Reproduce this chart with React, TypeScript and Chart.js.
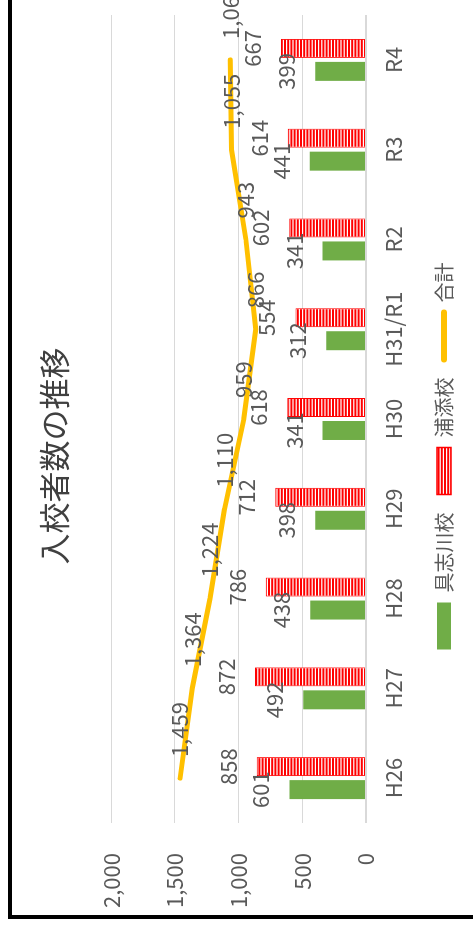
import React, { useEffect, useRef } from 'react';
import { Chart, registerables } from 'chart.js';

Chart.register(...registerables);

const categories = ['H26', 'H27', 'H28', 'H29', 'H30', 'H31/R1', 'R2', 'R3', 'R4'];
const gushikawa = [601, 492, 438, 398, 341, 312, 341, 441, 399];
const urasoe = [858, 872, 786, 712, 618, 554, 602, 614, 667];
const total = [1459, 1364, 1224, 1110, 959, 866, 943, 1055, 1066];
const valueTicks = [0, 500, 1000, 1500, 2000];
const seriesNames = ['具志川校', '浦添校', '合計'];
const titleText = '入校者数の推移';

const LATIN = "'Liberation Sans Narrow', 'Noto Sans CJK JP', sans-serif";
const CJK = "'Noto Sans CJK JP', sans-serif";
const TEXT = '#595959';
const GREEN = '#70AD47';
const RED = '#FF0000';
const GOLD = '#FFC000';

// white fill with thin red horizontal stripes
function stripePattern(): CanvasPattern | string {
  const tile = document.createElement('canvas');
  tile.width = 8;
  tile.height = 16;
  const t = tile.getContext('2d');
  if (!t) return RED;
  t.fillStyle = '#ffffff';
  t.fillRect(0, 0, 8, 16);
  t.fillStyle = RED;
  for (let k = 0; k < 5; k++) t.fillRect(0, k * 3.2, 8, 2);
  return t.createPattern(tile, 'repeat') || RED;
}

const fmt = (v: number) => v.toLocaleString('en-US');

// numeric labels above bars and beside line points
const valueLabels = {
  id: 'valueLabels',
  afterDatasetsDraw(chart: any) {
    const ctx = chart.ctx as CanvasRenderingContext2D;
    ctx.save();
    ctx.font = `22px ${LATIN}`;
    ctx.fillStyle = TEXT;
    chart.data.datasets.forEach((ds: any, di: number) => {
      const meta = chart.getDatasetMeta(di);
      meta.data.forEach((el: any, i: number) => {
        const text = fmt(ds.data[i] as number);
        if (meta.type === 'bar') {
          ctx.textAlign = 'center';
          ctx.textBaseline = 'alphabetic';
          ctx.fillText(text, el.x, el.y - 20);
        } else {
          ctx.textAlign = 'left';
          ctx.textBaseline = 'middle';
          ctx.fillText(text, el.x + 21, el.y);
        }
      });
    });
    ctx.restore();
  },
};

export default function App() {
  const ref = useRef<HTMLCanvasElement>(null);

  useEffect(() => {
    const canvas = ref.current;
    if (!canvas) return;
    const pattern = stripePattern();

    const chart = new Chart(canvas, {
      type: 'bar',
      data: {
        labels: categories,
        datasets: [
          {
            type: 'bar',
            label: seriesNames[0],
            data: gushikawa,
            backgroundColor: GREEN,
            borderWidth: 0,
            categoryPercentage: 0.512,
            barPercentage: 0.826,
          },
          {
            type: 'bar',
            label: seriesNames[1],
            data: urasoe,
            backgroundColor: pattern as any,
            borderColor: RED,
            borderWidth: 1,
            categoryPercentage: 0.512,
            barPercentage: 0.826,
          },
          {
            type: 'line',
            label: seriesNames[2],
            data: total,
            borderColor: GOLD,
            backgroundColor: GOLD,
            borderWidth: 5,
            borderCapStyle: 'round',
            borderJoinStyle: 'round',
            pointRadius: 0,
            tension: 0,
            fill: false,
          } as any,
        ],
      },
      options: {
        responsive: false,
        animation: false,
        devicePixelRatio: 1,
        events: [],
        layout: { padding: { left: 0, right: 0, top: 0, bottom: 9 } },
        scales: {
          x: {
            grid: { display: false },
            border: { display: false },
            ticks: {
              color: TEXT,
              font: { family: LATIN, size: 22 },
              padding: 6,
              maxRotation: 0,
              autoSkip: false,
            },
            afterFit: (s: any) => {
              s.height = 50;
            },
          },
          y: {
            min: 0,
            max: 2000,
            grid: {
              color: '#D9D9D9',
              lineWidth: (c: any) => (c.tick && c.tick.value === 0 ? 2 : 1),
              drawTicks: false,
            },
            border: { display: false },
            ticks: {
              color: TEXT,
              font: { family: LATIN, size: 22 },
              padding: 30,
              callback: (v: any) => fmt(Number(v)),
            },
            afterBuildTicks: (s: any) => {
              s.ticks = valueTicks.map((v) => ({ value: v }));
            },
            afterFit: (s: any) => {
              s.width = 92;
            },
          },
          // empty right-hand spacer so the plot ends short of the frame
          spacer: {
            type: 'linear',
            position: 'right',
            display: true,
            grid: { display: false },
            border: { display: false },
            ticks: { display: false },
            afterFit: (s: any) => {
              s.width = 18;
            },
          },
        },
        plugins: {
          title: {
            display: true,
            text: titleText,
            color: '#404040',
            font: { family: CJK, size: 31, weight: 'normal' },
            padding: { top: 24, bottom: 38 },
          },
          legend: {
            position: 'bottom',
            labels: {
              usePointStyle: true,
              pointStyleWidth: 47,
              boxHeight: 14,
              padding: 18,
              color: TEXT,
              font: { family: CJK, size: 20 },
              generateLabels: (c: any) => {
                const items = Chart.defaults.plugins.legend.labels.generateLabels(c);
                return items.map((it: any) => {
                  if (it.datasetIndex === 2) {
                    return { ...it, pointStyle: 'line', strokeStyle: GOLD, fillStyle: GOLD, lineWidth: 6, lineCap: 'round' };
                  }
                  if (it.datasetIndex === 1) {
                    return { ...it, pointStyle: 'rect', fillStyle: pattern, strokeStyle: RED, lineWidth: 1.5 };
                  }
                  return { ...it, pointStyle: 'rect', fillStyle: GREEN, strokeStyle: GREEN, lineWidth: 0 };
                });
              },
            },
          },
          tooltip: { enabled: false },
        },
      } as any,
      plugins: [valueLabels],
    });

    return () => chart.destroy();
  }, []);

  return (
    <div
      style={{
        position: 'fixed',
        left: 0,
        top: 0,
        width: 473,
        height: 930,
        overflow: 'hidden',
        background: '#ffffff',
      }}
    >
      <div
        style={{
          position: 'absolute',
          left: 0,
          top: 0,
          width: 930,
          height: 473,
          transformOrigin: '0 0',
          transform: 'translateY(930px) rotate(-90deg)',
        }}
      >
        <div
          style={{
            position: 'absolute',
            left: 11,
            top: 8,
            width: 1000,
            height: 600,
            border: '4px solid #000',
            boxSizing: 'border-box',
          }}
        />
        <canvas
          ref={ref}
          width={918}
          height={461}
          style={{ position: 'absolute', left: 15, top: 12, width: 918, height: 461 }}
        />
      </div>
    </div>
  );
}
